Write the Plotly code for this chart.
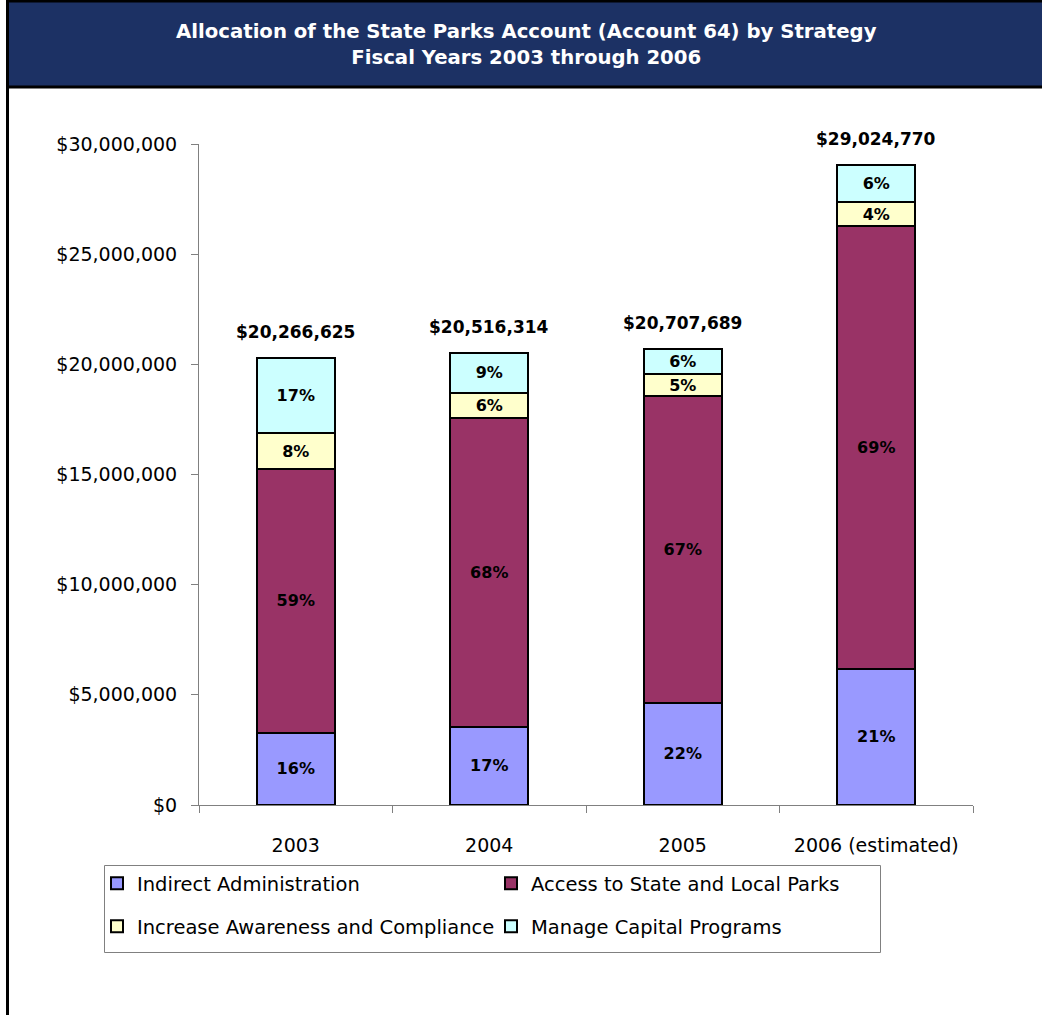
import plotly.graph_objects as go

# fiscal years on the x axis
years = ["2003", "2004", "2005", "2006 (estimated)"]

# dollars per strategy
indirect_admin = [3290000, 3550000, 4640000, 6180000]
access_parks = [11950000, 14000000, 13910000, 20090000]
awareness = [1640000, 1160000, 1000000, 1090000]
capital = [3386625, 1806314, 1157689, 1664770]

# printed labels
totals = [20266625, 20516314, 20707689, 29024770]
pct_indirect = ["16%", "17%", "22%", "21%"]
pct_access = ["59%", "68%", "67%", "69%"]
pct_awareness = ["8%", "6%", "5%", "4%"]
pct_capital = ["17%", "9%", "6%", "6%"]

W, H = 1042, 1015
L, R, T, B = 199, 69, 144, 210
PW, PH = W - L - R, H - T - B


def px(x):
    return (x - L) / PW


def py(y):
    return (H - B - y) / PH


FONT = "DejaVu Sans"

# name, values, labels, colour, legend row
series = [
    ("Indirect Administration", indirect_admin, pct_indirect, "#9999FF", "legend"),
    ("Access to State and Local Parks", access_parks, pct_access, "#993366", "legend"),
    ("Increase Awareness and Compliance", awareness, pct_awareness, "#FFFFCC", "legend2"),
    ("Manage Capital Programs", capital, pct_capital, "#CCFFFF", "legend2"),
]

fig = go.Figure()
for name, vals, pcts, color, leg in series:
    fig.add_trace(go.Bar(
        x=years, y=vals, name=name, text=pcts, legend=leg,
        textposition="inside", insidetextanchor="middle", textangle=0,
        textfont=dict(family=FONT, size=16, color="black", weight="bold"),
        marker=dict(color=color, line=dict(color="black", width=2)),
        hoverinfo="skip",
    ))

# totals above each bar (category index, since the labels look numeric)
for i, tot in enumerate(totals):
    fig.add_annotation(
        x=i, y=tot, text=f"${tot:,}", showarrow=False,
        yanchor="bottom", yshift=14,
        font=dict(family=FONT, size=17, color="black", weight="bold"),
    )

# title banner and frame
fig.add_shape(type="rect", xref="paper", yref="paper",
              x0=px(7), x1=px(W + 5), y0=py(87), y1=py(0),
              fillcolor="#1C3164", line=dict(width=0), layer="below")
fig.add_shape(type="line", xref="paper", yref="paper",
              x0=px(6), x1=px(W + 5), y0=py(1), y1=py(1),
              line=dict(color="black", width=3))
fig.add_shape(type="line", xref="paper", yref="paper",
              x0=px(6), x1=px(W + 5), y0=py(87), y1=py(87),
              line=dict(color="black", width=3))
fig.add_shape(type="line", xref="paper", yref="paper",
              x0=px(7.5), x1=px(7.5), y0=py(0), y1=py(H + 5),
              line=dict(color="black", width=3))
fig.add_annotation(
    xref="paper", yref="paper", x=px(526), y=py(44),
    text="Allocation of the State Parks Account (Account 64) by Strategy<br>Fiscal Years 2003 through 2006",
    showarrow=False, xanchor="center", yanchor="middle",
    font=dict(family=FONT, size=19.7, color="white", weight="bold"),
)

# legend box
fig.add_shape(type="rect", xref="paper", yref="paper",
              x0=px(104.5), x1=px(880.5), y0=py(952.5), y1=py(865.5),
              line=dict(color="#808080", width=1), fillcolor="rgba(0,0,0,0)")

legend_common = dict(
    orientation="h", traceorder="normal", xanchor="left", yanchor="top",
    entrywidth=349, entrywidthmode="pixels",
    borderwidth=0, bgcolor="rgba(0,0,0,0)",
    font=dict(family=FONT, size=19.5, color="black"),
)

fig.update_layout(
    width=W, height=H, autosize=False,
    margin=dict(l=L, r=R, t=T, b=B, pad=0),
    barmode="stack", bargap=0.597,
    paper_bgcolor="white", plot_bgcolor="white",
    font=dict(family=FONT, size=19, color="black"),
    uniformtext=dict(minsize=16, mode="show"),
    showlegend=True,
    legend=dict(x=px(97), y=py(864), **legend_common),
    legend2=dict(x=px(97), y=py(907), **legend_common),
    xaxis=dict(
        type="category", range=[-0.5, len(years) - 0.5],
        showline=True, linecolor="#808080", linewidth=1,
        ticks="outside", tickson="boundaries", ticklen=7, tickcolor="#808080",
        ticklabelstandoff=23, showgrid=False,
    ),
    yaxis=dict(
        range=[0, 30000000], dtick=5000000, tickprefix="$", tickformat=",d",
        showline=True, linecolor="#808080", linewidth=1,
        ticks="outside", ticklen=7, tickcolor="#808080",
        ticklabelstandoff=10, showgrid=False, zeroline=False,
    ),
)

fig.write_html("out.html", config={"displayModeBar": False},
               post_script="document.body.style.margin='0px';")
